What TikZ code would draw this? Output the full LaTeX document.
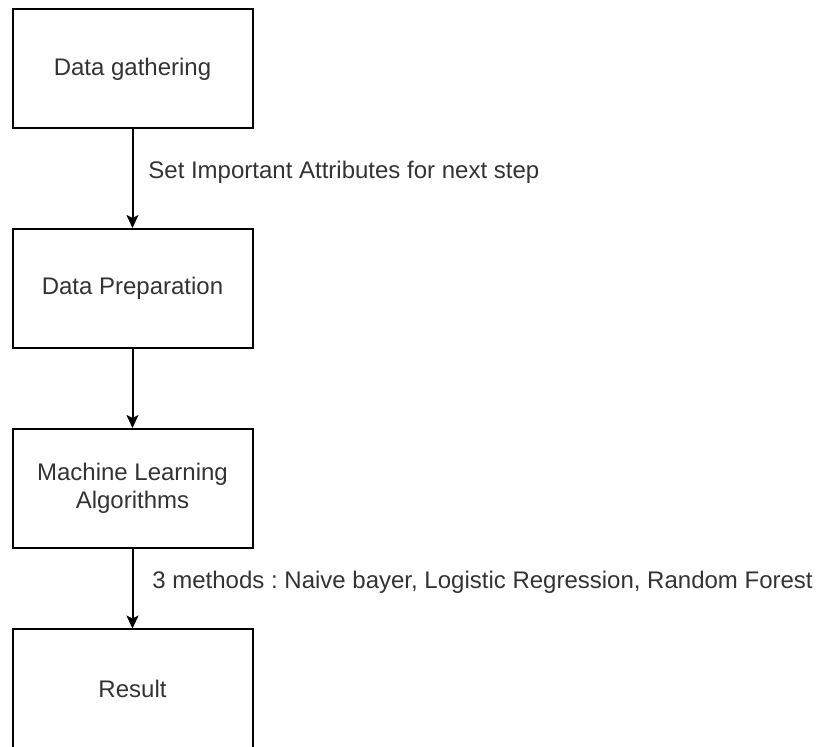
\documentclass[tikz,border=0pt]{standalone}
\usepackage{fontspec}
\setmainfont{Liberation Sans}
\usetikzlibrary{arrows.meta}
\frenchspacing
\tikzset{
  box/.style={draw, line width=1pt, minimum width=120pt, minimum height=59.5pt,
    inner sep=0pt, align=center, text=black!80},
  lbl/.style={anchor=west, inner sep=0pt, text=black!80},
  arr/.style={line width=1pt, -{Stealth[length=6.5pt,width=6pt,inset=1.5pt]}}
}
\begin{document}
\begin{tikzpicture}[x=0.5pt, y=-0.5pt, font=\fontsize{12}{14}\selectfont]
    \useasboundingbox (0,0) rectangle (819,747);
    \node[box] (gath) at (132.5,69) {Data gathering};
    \node[box] (prep) at (132.5,288.5) {Data Preparation};
    \node[box] (algo) at (132.5,488.5) {Machine Learning\\Algorithms};
    \node[box] (res) at (132.5,689) {Result};

    \node[lbl] (attr) at (148,172) {Set Important Attributes for next step};
    \node[lbl] (meth) at (152,582) {3 methods : Naive bayer, Logistic Regression, Random Forest};

    \draw[arr] (gath) -- (prep);
    \draw[arr] (prep) -- (algo);
    \draw[arr] (algo) -- (res);
  \end{tikzpicture}
\end{document}
